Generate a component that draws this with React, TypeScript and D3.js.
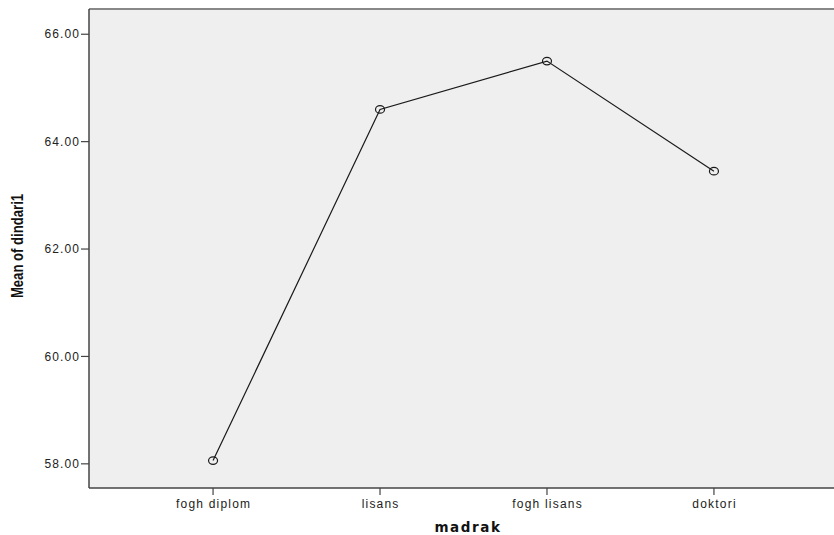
import React from "react";
import * as d3 from "d3";

const categories = ["fogh diplom", "lisans", "fogh lisans", "doktori"];
const means = [58.06, 64.6, 65.5, 63.45];
const yTicks = [58, 60, 62, 64, 66];

const W = 834;
const H = 535;
const left = 89;
const right = 838;
const top = 9;
const bottom = 488;

export default function App() {
  const x = d3.scalePoint<string>().domain(categories).range([left, right]).padding(0.743);
  const y = d3.scaleLinear().domain([57.55, 66.47]).range([bottom, top]);
  const line = d3
    .line<number>()
    .x((_, i) => x(categories[i]) as number)
    .y((d) => y(d));
  const font = "'Liberation Sans', Arial, sans-serif";
  return (
    <svg width={W} height={H} style={{ position: "absolute", left: 0, top: 0 }}>
      <rect x={0} y={0} width={W} height={H} fill="#ffffff" />
      <rect x={left} y={top} width={right - left} height={bottom - top} fill="#efefef" />
      <line x1={left} x2={W} y1={top} y2={top} stroke="#888" strokeWidth={2} />
      <line x1={left} x2={left} y1={top} y2={bottom} stroke="#444" strokeWidth={1.5} />
      <line x1={left} x2={W} y1={bottom} y2={bottom} stroke="#444" strokeWidth={1.5} />
      {yTicks.map((t) => (
        <g key={t}>
          <line x1={left - 8} x2={left} y1={y(t)} y2={y(t)} stroke="#444" strokeWidth={1.2} />
          <text x={left - 9} y={y(t)} dy="0.35em" textAnchor="end" fontFamily={font} fontSize={12} letterSpacing={1.1} fill="#222">
            {t.toFixed(2)}
          </text>
        </g>
      ))}
      {categories.map((c) => (
        <g key={c}>
          <line x1={x(c)} x2={x(c)} y1={bottom} y2={bottom + 7} stroke="#444" strokeWidth={1.2} />
          <text x={(x(c) as number) + 0.6} y={bottom + 20} textAnchor="middle" fontFamily={font} fontSize={12} letterSpacing={1.2} fill="#222">
            {c}
          </text>
        </g>
      ))}
      <path d={line(means) || ""} fill="none" stroke="#1a1a1a" strokeWidth={1.2} />
      {means.map((m, i) => (
        <ellipse key={i} cx={x(categories[i])} cy={y(m)} rx={4.5} ry={3.8} fill="none" stroke="#1a1a1a" strokeWidth={1.2} />
      ))}
      <text x={468} y={532} textAnchor="middle" fontFamily="'DejaVu Sans', Verdana, sans-serif" fontSize={13.5} fontWeight="bold" letterSpacing={1.6} fill="#111">
        madrak
      </text>
      <text
        transform={`translate(23, 246) rotate(-90) scale(0.82, 1)`}
        textAnchor="middle"
        fontFamily={font}
        fontSize={16}
        fontWeight="bold"
        fill="#111"
      >
        Mean of dindari1
      </text>
    </svg>
  );
}
